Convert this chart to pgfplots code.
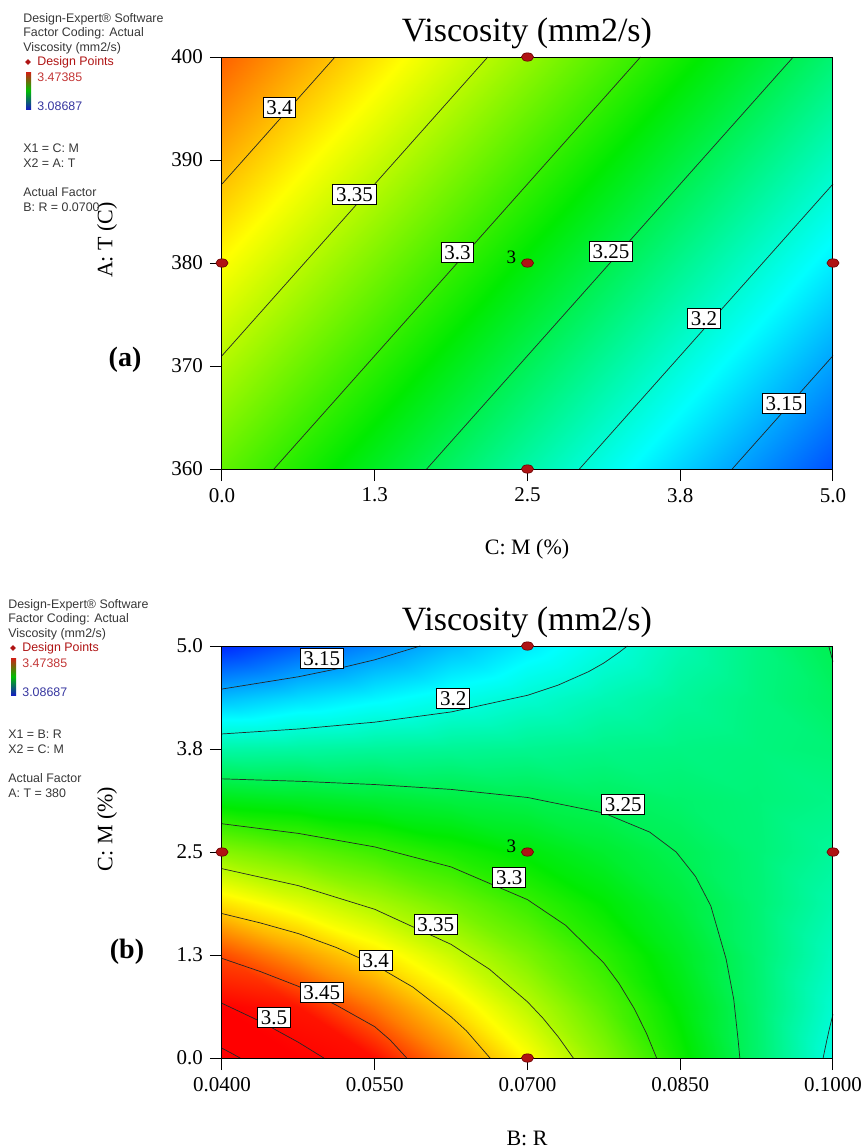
\documentclass[border=0pt]{standalone}
\usepackage{fontspec}
\setmainfont{Liberation Serif}
\newfontfamily\arial{Liberation Sans}
\usepackage{pgfplots}
\pgfplotsset{compat=1.18}
\usepackage{pgfplotstable}
\usetikzlibrary{shapes.geometric}

\definecolor{dpred}{RGB}{175,20,20}
\definecolor{dpedge}{RGB}{105,0,0}
\definecolor{infogray}{RGB}{55,55,55}
\definecolor{hired}{RGB}{195,55,55}
\definecolor{loblue}{RGB}{55,55,160}

% panel (a): x = M (%), y = T (C), V = viscosity, R fixed at 0.07
\pgfplotstableread{
M T V
0 360 3.317
0.625 360 3.292
1.25 360 3.267
1.875 360 3.242
2.5 360 3.217
3.125 360 3.192
3.75 360 3.167
4.375 360 3.142
5 360 3.117
0 365 3.332
0.625 365 3.307
1.25 365 3.282
1.875 365 3.257
2.5 365 3.232
3.125 365 3.207
3.75 365 3.182
4.375 365 3.157
5 365 3.132
0 370 3.347
0.625 370 3.322
1.25 370 3.297
1.875 370 3.272
2.5 370 3.247
3.125 370 3.222
3.75 370 3.197
4.375 370 3.172
5 370 3.147
0 375 3.362
0.625 375 3.337
1.25 375 3.312
1.875 375 3.287
2.5 375 3.262
3.125 375 3.237
3.75 375 3.212
4.375 375 3.187
5 375 3.162
0 380 3.377
0.625 380 3.352
1.25 380 3.327
1.875 380 3.302
2.5 380 3.277
3.125 380 3.252
3.75 380 3.227
4.375 380 3.202
5 380 3.177
0 385 3.392
0.625 385 3.367
1.25 385 3.342
1.875 385 3.317
2.5 385 3.292
3.125 385 3.267
3.75 385 3.242
4.375 385 3.217
5 385 3.192
0 390 3.407
0.625 390 3.382
1.25 390 3.357
1.875 390 3.332
2.5 390 3.307
3.125 390 3.282
3.75 390 3.257
4.375 390 3.232
5 390 3.207
0 395 3.422
0.625 395 3.397
1.25 395 3.372
1.875 395 3.347
2.5 395 3.322
3.125 395 3.297
3.75 395 3.272
4.375 395 3.247
5 395 3.222
0 400 3.437
0.625 400 3.412
1.25 400 3.387
1.875 400 3.362
2.5 400 3.337
3.125 400 3.312
3.75 400 3.287
4.375 400 3.262
5 400 3.237
}\gridA

% panel (b): x = R, y = M (%), T fixed at 380
\pgfplotstableread{
R M V
0.04 0 3.561
0.0475 0 3.515
0.055 0 3.469
0.0625 0 3.423
0.07 0 3.378
0.0775 0 3.332
0.085 0 3.286
0.0925 0 3.240
0.1 0 3.194
0.04 0.625 3.504
0.0475 0.625 3.466
0.055 0.625 3.428
0.0625 0.625 3.390
0.07 0.625 3.352
0.0775 0.625 3.314
0.085 0.625 3.277
0.0925 0.625 3.239
0.1 0.625 3.201
0.04 1.25 3.446
0.0475 1.25 3.416
0.055 1.25 3.387
0.0625 1.25 3.357
0.07 1.25 3.327
0.0775 1.25 3.297
0.085 1.25 3.268
0.0925 1.25 3.238
0.1 1.25 3.208
0.04 1.875 3.389
0.0475 1.875 3.367
0.055 1.875 3.345
0.0625 1.875 3.324
0.07 1.875 3.302
0.0775 1.875 3.280
0.085 1.875 3.258
0.0925 1.875 3.237
0.1 1.875 3.215
0.04 2.5 3.332
0.0475 2.5 3.318
0.055 2.5 3.304
0.0625 2.5 3.290
0.07 2.5 3.277
0.0775 2.5 3.263
0.085 2.5 3.249
0.0925 2.5 3.236
0.1 2.5 3.222
0.04 3.125 3.274
0.0475 3.125 3.269
0.055 3.125 3.263
0.0625 3.125 3.257
0.07 3.125 3.252
0.0775 3.125 3.246
0.085 3.125 3.240
0.0925 3.125 3.235
0.1 3.125 3.229
0.04 3.75 3.217
0.0475 3.75 3.219
0.055 3.75 3.222
0.0625 3.75 3.224
0.07 3.75 3.226
0.0775 3.75 3.229
0.085 3.75 3.231
0.0925 3.75 3.233
0.1 3.75 3.236
0.04 4.375 3.159
0.0475 4.375 3.170
0.055 4.375 3.180
0.0625 4.375 3.191
0.07 4.375 3.201
0.0775 4.375 3.212
0.085 4.375 3.222
0.0925 4.375 3.232
0.1 4.375 3.243
0.04 5 3.102
0.0475 5 3.121
0.055 5 3.139
0.0625 5 3.158
0.07 5 3.176
0.0775 5 3.194
0.085 5 3.213
0.0925 5 3.231
0.1 5 3.250
}\gridB

\pgfplotsset{
  cplot/.style={
    scale only axis, width=305.5pt, height=206pt, anchor=south west,
    colormap={de}{rgb255(0cm)=(0,0,255); rgb255(1cm)=(0,255,255);
      rgb255(2cm)=(0,235,0); rgb255(3cm)=(255,255,0); rgb255(4cm)=(255,0,0)},
    point meta min=3.08687, point meta max=3.47385,
    enlargelimits=false, axis on top, clip=false,
    tick align=outside, tick pos=left, major tick length=6pt,
    tick style={black, line width=0.5pt},
    axis line style={black, line width=0.5pt},
    ticklabel style={font=\fontsize{10.5}{12}\selectfont},
  },
  cline/.style={black!85, line width=0.35pt, no markers, forget plot},
  dp/.style={only marks, mark=*, mark size=2.1pt,
    mark options={fill=dpred, draw=dpedge, line width=0.3pt, xscale=1.45}},
}
\tikzset{
  clab/.style={draw=black, fill=white, line width=0.4pt, inner xsep=1.6pt,
    inner ysep=1.4pt, text height=7.2pt, text depth=0pt,
    font=\fontsize{10.5}{12}\selectfont},
  rep/.style={anchor=east, inner sep=0pt, xshift=-5.5pt, yshift=3pt,
    font=\fontsize{9.5}{11}\selectfont},
  info/.style={anchor=west, inner sep=0pt, text=infogray,
    font=\arial\fontsize{6.2}{7}\selectfont},
}

\newcommand\infoblock[3]{%
  \node[info] at (11.5pt,-9.5pt) {Design-Expert® Software};
  \node[info] at (11.5pt,-16.5pt) {Factor Coding: Actual};
  \node[info] at (11.5pt,-24pt) {Viscosity (mm2/s)};
  \node[diamond, fill=dpred, inner sep=0pt, minimum size=3pt] at (14pt,-31pt) {};
  \node[info, text=dpred] at (18.5pt,-31pt) {Design Points};
  \shade[top color={rgb,255:red,210;green,30;blue,20},
    bottom color={rgb,255:red,20;green,30;blue,190},
    middle color={rgb,255:red,0;green,190;blue,0}]
    (13pt,-36pt) rectangle (15.5pt,-54.5pt);
  \node[info, text=hired] at (18.5pt,-38.5pt) {3.47385};
  \node[info, text=loblue] at (18.5pt,-53pt) {3.08687};
  \node[info] at (11.5pt,-74pt) {#1};
  \node[info] at (11.5pt,-81.5pt) {#2};
  \node[info] at (11.5pt,-96pt) {Actual Factor};
  \node[info] at (11.5pt,-103.5pt) {#3};
}

\begin{document}
\begin{tikzpicture}
\path[use as bounding box] (0,0) rectangle (431pt,-574pt);

% ---------------- panel (a)
\begin{axis}[cplot, at={(111pt,-234.5pt)},
  xmin=0, xmax=5, ymin=360, ymax=400,
  xtick={0,1.25,2.5,3.75,5}, xticklabels={0.0,1.3,2.5,3.8,5.0},
  ytick={360,370,380,390,400}, yticklabels={360,370,380,390,400}]
\addplot[surf, shader=interp, mesh/cols=9, point meta=\thisrow{V}]
  table[x=M, y=T] {\gridA};
\addplot[cline] coordinates {(0,387.67) (0.925,400)};
\addplot[cline] coordinates {(0,371) (2.175,400)};
\addplot[cline] coordinates {(0.425,360) (3.425,400)};
\addplot[cline] coordinates {(1.675,360) (4.675,400)};
\addplot[cline] coordinates {(2.925,360) (5,387.67)};
\addplot[cline] coordinates {(4.175,360) (5,371)};
\addplot[dp] coordinates {(0,380) (2.5,400) (2.5,380) (2.5,360) (5,380)};
\node[clab] at (axis cs:0.47,395.1) {3.4};
\node[clab] at (axis cs:1.084,386.7) {3.35};
\node[clab] at (axis cs:1.927,381.0) {3.3};
\node[clab] at (axis cs:3.183,381.1) {3.25};
\node[clab] at (axis cs:3.944,374.6) {3.2};
\node[clab] at (axis cs:4.599,366.4) {3.15};
\node[rep] at (axis cs:2.5,380) {3};
\end{axis}

% ---------------- panel (b)
\begin{axis}[cplot, at={(111pt,-529pt)},
  xmin=0.04, xmax=0.1, ymin=0, ymax=5,
  xtick={0.04,0.055,0.07,0.085,0.1},
  xticklabels={0.0400,0.0550,0.0700,0.0850,0.1000},
  ytick={0,1.25,2.5,3.75,5}, yticklabels={0.0,1.3,2.5,3.8,5.0}]
\addplot[surf, shader=interp, mesh/cols=9, point meta=\thisrow{V}]
  table[x=R, y=M] {\gridB};
% 3.15
\addplot[cline] coordinates {(0.04,4.478) (0.0475,4.627) (0.05125,4.722) (0.055,4.833) (0.05947,5)};
% 3.2
\addplot[cline] coordinates {(0.04,3.933) (0.0475,3.993) (0.055,4.076) (0.0625,4.200) (0.07,4.402)
  (0.073,4.525) (0.076,4.689) (0.0775,4.794) (0.079,4.923) (0.0798,5)};
\addplot[cline] coordinates {(0.09903,0) (0.0994,0.218) (0.0997,0.383) (0.1,0.530)};
% 3.25
\addplot[cline] coordinates {(0.04,3.388) (0.0475,3.359) (0.055,3.319) (0.0625,3.260) (0.07,3.162)
  (0.0775,2.973) (0.082,2.742) (0.0846,2.5) (0.0865,2.203) (0.088,1.846) (0.0895,1.204)
  (0.09025,0.716) (0.0907,0.199) (0.09085,0)};
\addplot[cline] coordinates {(0.09958,5) (0.1,4.81)};
% 3.3
\addplot[cline] coordinates {(0.04,2.843) (0.0475,2.726) (0.055,2.562) (0.0625,2.319) (0.07,1.922)
  (0.07375,1.610) (0.0775,1.153) (0.079,0.903) (0.0805,0.596) (0.0817,0.295) (0.08268,0)};
% 3.35
\addplot[cline] coordinates {(0.04,2.298) (0.0475,2.092) (0.055,1.805) (0.0625,1.379) (0.06625,1.079)
  (0.07,0.682) (0.0715,0.486) (0.073,0.260) (0.0745,0)};
% 3.4
\addplot[cline] coordinates {(0.04,1.753) (0.04375,1.64) (0.0475,1.51) (0.05125,1.34) (0.055,1.13)
  (0.05875,0.86) (0.0625,0.50) (0.064,0.33) (0.06632,0)};
% 3.45
\addplot[cline] coordinates {(0.04,1.209) (0.04375,1.05) (0.0475,0.87) (0.05125,0.64) (0.055,0.38)
  (0.0565,0.22) (0.05814,0)};
% 3.5
\addplot[cline] coordinates {(0.04,0.664) (0.04375,0.445) (0.0475,0.191) (0.05,0)};
% 3.55
\addplot[cline] coordinates {(0.04,0.119) (0.0409,0.060) (0.04178,0)};
\addplot[dp] coordinates {(0.04,2.5) (0.07,5) (0.07,2.5) (0.07,0) (0.1,2.5)};
\node[clab] at (axis cs:0.0498,4.848) {3.15};
\node[clab] at (axis cs:0.0627,4.369) {3.2};
\node[clab] at (axis cs:0.0794,3.076) {3.25};
\node[clab] at (axis cs:0.0682,2.191) {3.3};
\node[clab] at (axis cs:0.0610,1.626) {3.35};
\node[clab] at (axis cs:0.0551,1.189) {3.4};
\node[clab] at (axis cs:0.0498,0.801) {3.45};
\node[clab] at (axis cs:0.0451,0.498) {3.5};
\node[rep] at (axis cs:0.07,2.5) {3};
\end{axis}

% ---------------- titles, axis labels, info blocks
\node[font=\fontsize{17}{20}\selectfont] at (263.5pt,-16.5pt) {Viscosity (mm2/s)};
\node[font=\fontsize{17}{20}\selectfont] at (263.5pt,-311pt) {Viscosity (mm2/s)};
\node[font=\fontsize{11}{13}\selectfont] at (263.5pt,-274.5pt) {C: M (\%)};
\node[font=\fontsize{11}{13}\selectfont] at (263.5pt,-569pt) {B: R};
\node[font=\fontsize{11}{13}\selectfont, rotate=90] at (53.5pt,-120pt) {A: T (C)};
\node[font=\fontsize{11}{13}\selectfont, rotate=90] at (53.5pt,-414.5pt) {C: M (\%)};
\node[font=\bfseries\fontsize{14}{16}\selectfont] at (62.5pt,-180pt) {(a)};
\node[font=\bfseries\fontsize{14}{16}\selectfont] at (63.5pt,-476pt) {(b)};

\begin{scope}
\infoblock{X1 = C: M}{X2 = A: T}{B: R = 0.0700}
\end{scope}
\begin{scope}[shift={(-7.5pt,-293pt)}]
\infoblock{X1 = B: R}{X2 = C: M}{A: T = 380}
\end{scope}
\end{tikzpicture}
\end{document}
